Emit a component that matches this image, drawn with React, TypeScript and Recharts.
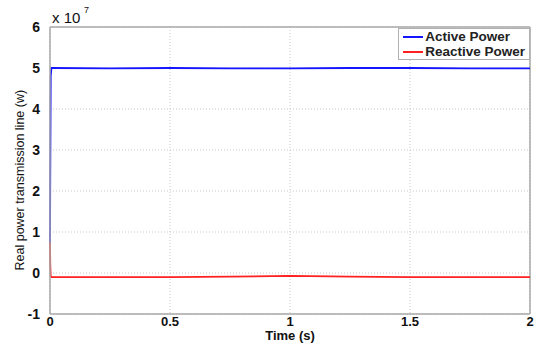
import React from 'react';
import {
	LineChart,
	Line,
	XAxis,
	YAxis,
	CartesianGrid,
	ReferenceLine,
} from 'recharts';

// time (s) and power (W)
const time = [0, 0.001, 0.003, 0.006, 0.01, 0.25, 0.5, 0.75, 1, 1.25, 1.5, 1.75, 2];
const activePower = [0.7e7, 2.3e7, 4.8e7, 5.0e7, 5.0e7, 4.99e7, 5.0e7, 4.99e7, 4.99e7, 5.0e7, 5.0e7, 4.99e7, 4.99e7];
const reactivePower = [0.75e7, 0.2e7, -0.08e7, -0.1e7, -0.1e7, -0.1e7, -0.1e7, -0.09e7, -0.07e7, -0.09e7, -0.1e7, -0.1e7, -0.1e7];
const xTicks = [0, 0.5, 1, 1.5, 2];
const yTicks = [-1e7, 0, 1e7, 2e7, 3e7, 4e7, 5e7, 6e7];
const seriesNames = ['Active Power', 'Reactive Power'];
const seriesColors = ['#1515ff', '#ff2020'];

const data = time.map((t, i) => ({
	t,
	active: activePower[i],
	reactive: reactivePower[i],
}));

const font = '"Liberation Sans", Arial, sans-serif';
const gray = '#a8a8a8';

// legend sits on top of the plot like the MATLAB one, so it is not a recharts Legend
const LegendBox = () => (
	<div
		style={{
			position: 'absolute',
			right: 7,
			top: 28,
			background: '#fff',
			border: '1px solid #b0b0b0',
			padding: '0px 4px 0px 4px',
			fontFamily: font,
			fontSize: 13.5,
			fontWeight: 'bold',
			color: '#222',
			lineHeight: '15px',
		}}
	>
		{seriesNames.map((name, i) => (
			<div key={name} style={{ display: 'flex', alignItems: 'center' }}>
				<span
					style={{
						display: 'inline-block',
						width: 20,
						height: 2,
						background: seriesColors[i],
						marginRight: 2,
					}}
				/>
				{name}
			</div>
		))}
	</div>
);

export default function App() {
	return (
		<div style={{ position: 'absolute', left: 0, top: 0, width: 537, height: 345 }}>
			<LineChart
				width={537}
				height={345}
				data={data}
				margin={{ top: 27, right: 7, left: 0, bottom: 0 }}
			>
				<CartesianGrid stroke="#c8c8c8" strokeDasharray="1 2" />
				<XAxis
					dataKey="t"
					type="number"
					domain={[0, 2]}
					ticks={xTicks}
					height={31}
					tickLine={false}
					tickSize={2}
					tickMargin={1}
					axisLine={{ stroke: gray, strokeWidth: 1.5 }}
					tick={{ fill: '#111', fontSize: 13, fontWeight: 'bold', fontFamily: font }}
					label={{
						value: 'Time (s)',
						position: 'insideBottom',
						offset: 5,
						fill: '#111',
						fontSize: 13,
						fontWeight: 'bold',
						fontFamily: font,
					}}
				/>
				<YAxis
					width={50}
					type="number"
					domain={[-1e7, 6e7]}
					ticks={yTicks}
					tickFormatter={(v: number) => String(Math.round(v / 1e7))}
					tickLine={false}
					axisLine={{ stroke: gray, strokeWidth: 1.5 }}
					tick={{ fill: '#111', fontSize: 14, fontWeight: 'bold', fontFamily: font }}
					tickMargin={4}
					label={{
						value: 'Real power transmission line (w)',
						angle: -90,
						position: 'insideLeft',
						offset: 20,
						dy: 100,
						fill: '#111',
						fontSize: 12.5,
						fontFamily: font,
					}}
				/>
				<ReferenceLine y={6e7} stroke={gray} strokeWidth={1.5} />
				<ReferenceLine x={2} stroke={gray} strokeWidth={1.5} />
				<Line
					type="linear"
					dataKey="active"
					name={seriesNames[0]}
					stroke={seriesColors[0]}
					strokeWidth={1.8}
					dot={false}
					isAnimationActive={false}
				/>
				<Line
					type="linear"
					dataKey="reactive"
					name={seriesNames[1]}
					stroke={seriesColors[1]}
					strokeWidth={1.8}
					dot={false}
					isAnimationActive={false}
				/>
				<text x={52} y={23} fontFamily={font} fontSize={15} fill="#111">
					x 10
				</text>
				<text x={84} y={13} fontFamily={font} fontSize={9} fill="#111">
					7
				</text>
			</LineChart>
			<LegendBox />
		</div>
	);
}
